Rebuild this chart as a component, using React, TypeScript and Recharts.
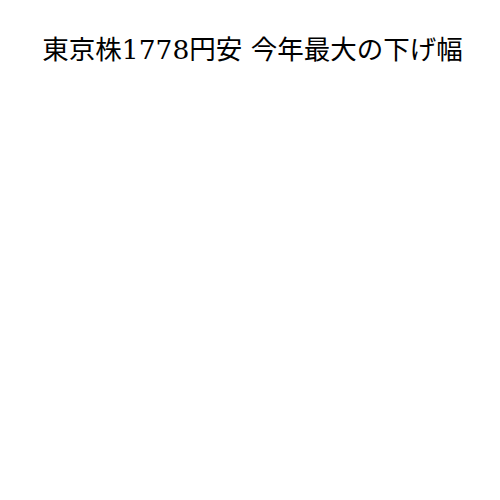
import { LineChart, Line, XAxis, YAxis } from 'recharts';

// The reference shows only the title; the plot itself is empty.
const categories: string[] = [];
const values: number[] = [];
const title = '東京株1778円安 今年最大の下げ幅';

const data = categories.map((name, i) => ({ name, value: values[i] }));

export default function App() {
  return (
    <div style={{ position: 'relative', width: 500, height: 500, margin: -8, background: '#fff' }}>
      <div
        style={{
          position: 'absolute',
          top: 34,
          left: 0,
          width: 505,
          textAlign: 'center',
          fontFamily: '"DejaVu Serif", "Noto Sans CJK JP", serif',
          fontSize: 26.5,
          lineHeight: '32px',
          color: '#000',
          whiteSpace: 'nowrap',
        }}
      >
        {title}
      </div>
      <LineChart width={500} height={500} data={data} margin={{ top: 80, right: 20, left: 20, bottom: 20 }}>
        <XAxis dataKey="name" hide />
        <YAxis hide />
        <Line dataKey="value" stroke="#000" dot={false} isAnimationActive={false} />
      </LineChart>
    </div>
  );
}
